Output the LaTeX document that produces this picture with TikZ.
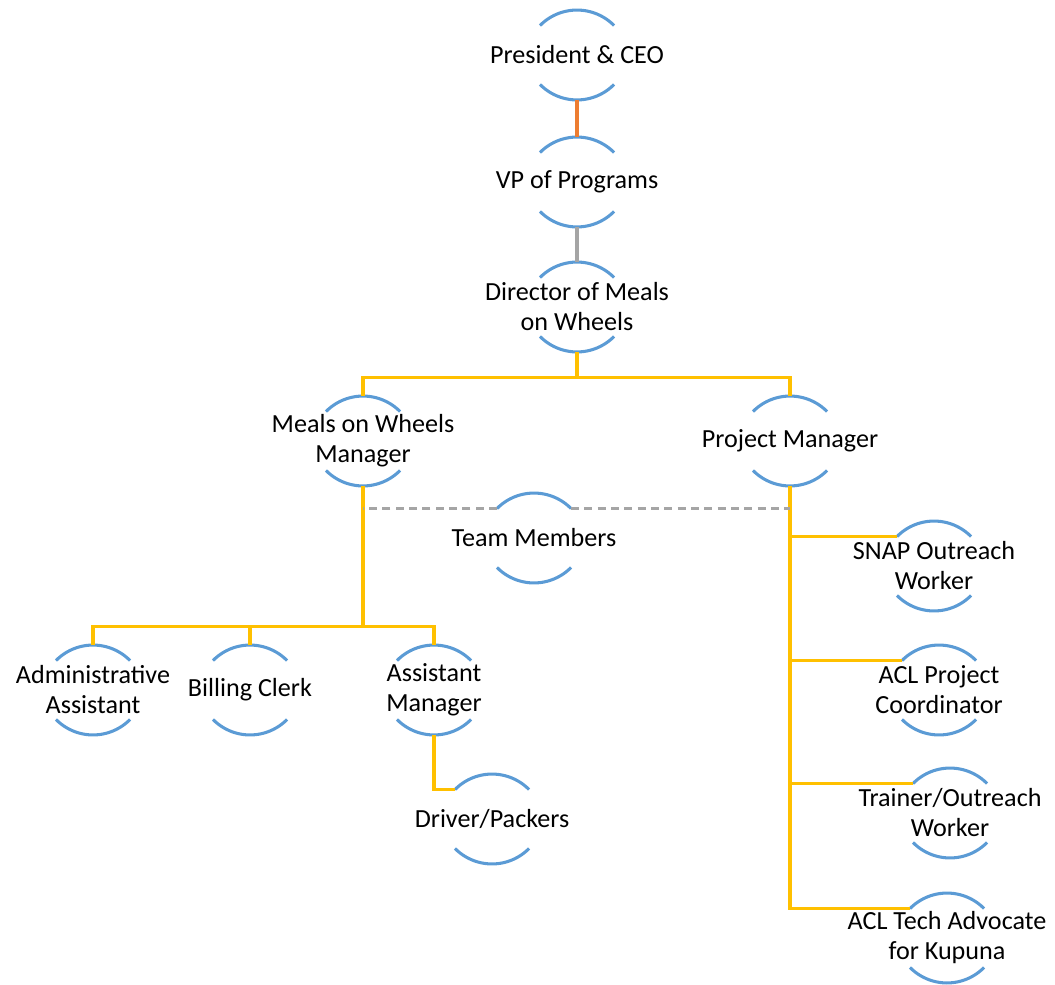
\documentclass[tikz,border=0pt]{standalone}
\usepackage{fontspec}
\setmainfont{Carlito}
\usepackage{xcolor}
\definecolor{arcblue}{HTML}{5B9BD5}
\definecolor{linkgold}{HTML}{FFC000}
\definecolor{linkorange}{HTML}{ED7D31}
\definecolor{linkgray}{HTML}{A5A5A5}
\tikzset{role/.style={align=center,inner sep=0pt,minimum height=67.5pt,
    text=black,font=\fontsize{19.6}{22.5}\selectfont},
  rolearc/.style={draw=arcblue,line width=2.3pt},
  link/.style={draw=linkgold,line width=2.4pt},
  teamlink/.style={draw=linkgray,line width=2pt,dash pattern=on 6pt off 4pt}}

\begin{document}
\begin{tikzpicture}[x=0.75pt,y=-0.75pt]
\useasboundingbox (0,0) rectangle (1055,984);
\node[role] (ceo) at (577,55) {President \& CEO};
\node[role] (vp) at (577,182) {VP of Programs};
\node[role] (dir) at (577,307) {Director of Meals\\on Wheels};
\node[role] (mow) at (363,441) {Meals on Wheels\\Manager};
\node[role] (pm) at (790,441) {Project Manager};
\node[role] (team) at (534,538) {Team Members};
\node[role] (admin) at (93,690) {Administrative\\Assistant};
\node[role] (billing) at (250,690) {Billing Clerk};
\node[role] (asst) at (434,690) {Assistant\\Manager};
\node[role] (driver) at (492,819) {Driver/Packers};
\node[role] (snap) at (934,566) {SNAP Outreach\\Worker};
\node[role] (aclpc) at (939,690) {ACL Project\\Coordinator};
\node[role] (trainer) at (950,813) {Trainer/Outreach\\Worker};
\node[role] (tech) at (947,938) {ACL Tech Advocate\\for Kupuna};

% the two arcs round each role
\foreach \n in {ceo,vp,dir,mow,pm,team,admin,billing,asst,driver,snap,aclpc,trainer,tech}{
  \draw[rolearc] ([shift={(-27.75pt,22.1pt)}]\n.center) coordinate (\n-tl)
    arc[start angle=135.4,end angle=44.6,radius=39pt] coordinate (\n-tr);
  \draw[rolearc] ([shift={(-27.75pt,-22.1pt)}]\n.center)
    arc[start angle=224.6,end angle=315.4,radius=39pt];
}

\draw[draw=linkorange,line width=2.4pt] (ceo.south) -- (vp.north);
\draw[draw=linkgray,line width=2.4pt] (vp.south) -- (dir.north);
\draw[link] (dir.south) -- ++(0,25) -| (mow.north);
\draw[link] (dir.south) -- ++(0,25) -| (pm.north);
\foreach \n in {admin,billing,asst}
  \draw[link] (mow.south) -- ++(0,140) -| (\n.north);
\draw[link] (asst.south) |- (driver-tl);
\foreach \n in {snap,aclpc,trainer,tech}
  \draw[link] (pm.south) |- (\n-tl);
\draw[teamlink] (team-tl) -- (mow.south |- team-tl);
\draw[teamlink] (team-tr) -- (pm.south |- team-tr);
\end{tikzpicture}
\end{document}
